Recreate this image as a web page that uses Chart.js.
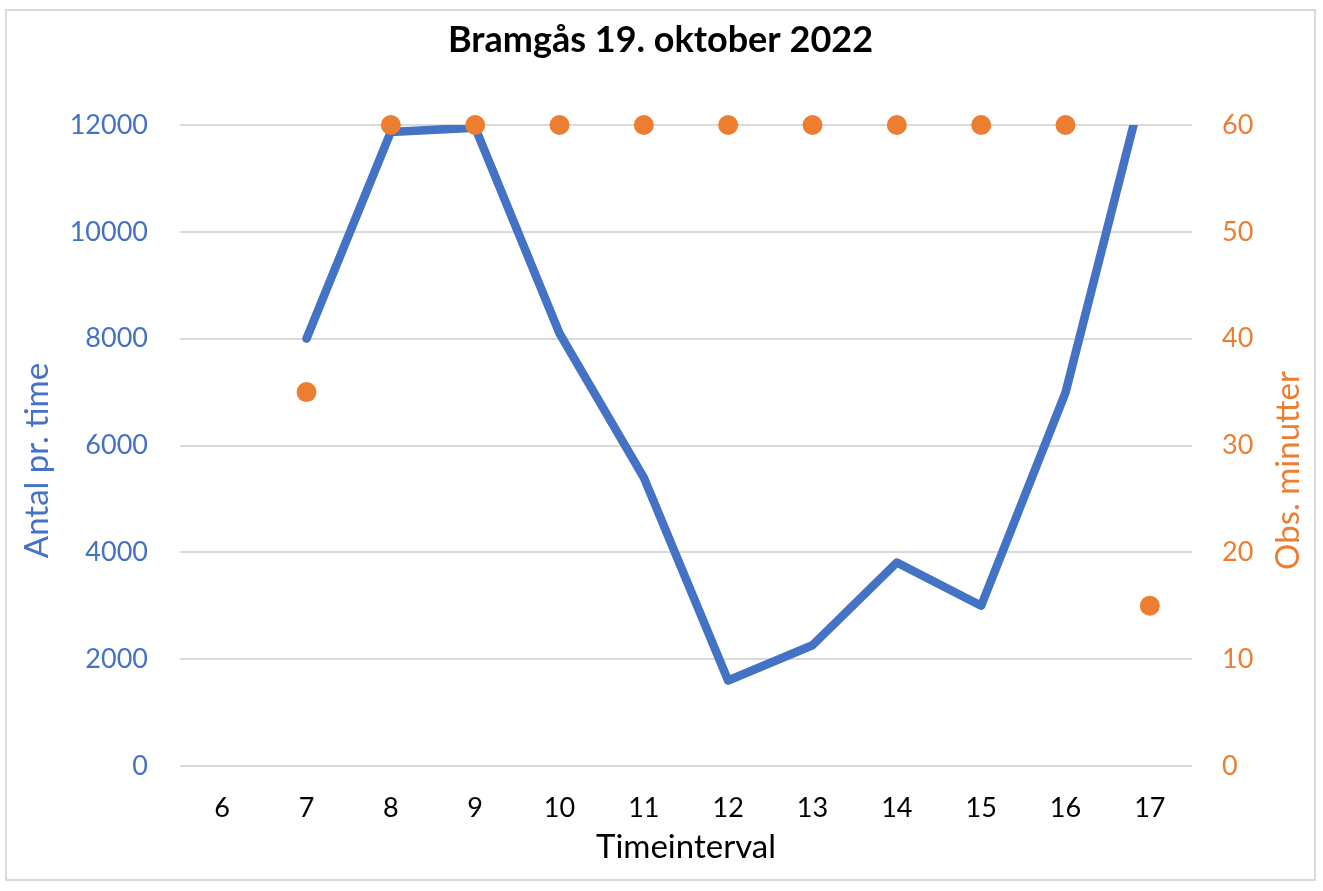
<!DOCTYPE html>
<html>
<head>
<meta charset="utf-8">
<title>Bramgås 19. oktober 2022</title>
<script src="https://cdn.jsdelivr.net/npm/chart.js@4.4.0/dist/chart.umd.min.js"></script>
<style>
  html, body { margin: 0; padding: 0; background: #fff; }
  #frame { position: absolute; left: 5px; top: 9px; width: 1307px; height: 868px; border: 2px solid #d9d9d9; }
  #frame canvas { display: block; }
</style>
</head>
<body>
<div id="frame"><canvas id="chart"></canvas></div>
<script>
/* Bramgås – antal pr. time og observationsminutter */

var hours = ['6', '7', '8', '9', '10', '11', '12', '13', '14', '15', '16', '17'];
var countPerHour = [null, 8000, 11870, 11950, 8100, 5400, 1600, 2260, 3810, 3000, 6990, 13200];
var obsMinutes = [null, 35, 60, 60, 60, 60, 60, 60, 60, 60, 60, 15];

var chartTitle = 'Bramgås 19. oktober 2022';
var xTitle = 'Timeinterval';
var leftTitle = 'Antal pr. time';
var rightTitle = 'Obs. minutter';

var BLUE = '#4472c4';
var ORANGE = '#ed7d31';
var GRID = '#d9d9d9';
var FONT = 'Lato';

// axis titles are drawn here so the secondary one can read bottom-to-top like the original
var axisTitlePlugin = {
  id: 'axisTitles',
  afterDraw: function(chart) {
    var ctx = chart.ctx, a = chart.chartArea;
    var midY = (a.top + a.bottom) / 2;
    ctx.save();
    ctx.font = '33px ' + FONT;
    ctx.textAlign = 'center';
    ctx.textBaseline = 'middle';
    [[leftTitle, 30, midY + 15, BLUE], [rightTitle, a.right + 96, midY + 25, ORANGE]].forEach(function(t) {
      ctx.save();
      ctx.translate(t[1], t[2]);
      ctx.rotate(-Math.PI / 2);
      ctx.fillStyle = t[3];
      ctx.fillText(t[0], 0, 0);
      ctx.restore();
    });
    ctx.restore();
  }
};

function fixWidth(w) { return function(s) { s.width = w; }; }
function plain(v) { return String(v); }

new Chart(document.getElementById('chart'), {
  type: 'line',
  data: {
    labels: hours,
    datasets: [
      {label: rightTitle, data: obsMinutes, yAxisID: 'y2', showLine: false,
       pointRadius: 10, pointHoverRadius: 10, pointBorderWidth: 0,
       pointBackgroundColor: ORANGE, borderColor: ORANGE, order: 1, clip: false},
      {label: leftTitle, data: countPerHour, yAxisID: 'y', borderColor: BLUE, borderWidth: 8.5,
       borderCapStyle: 'round', borderJoinStyle: 'round', tension: 0,
       pointRadius: 0, pointHoverRadius: 0, order: 2, clip: 0}
    ]
  },
  options: {
    responsive: true, maintainAspectRatio: false, animation: false,
    layout: {padding: 0},
    plugins: {
      legend: {display: false},
      tooltip: {enabled: false},
      title: {display: true, text: chartTitle, color: '#000',
              font: {family: FONT, size: 36, weight: 'bold', lineHeight: 1.2},
              padding: {top: 8, bottom: 62.8}}
    },
    scales: {
      x: {
        offset: true,
        grid: {display: false, drawTicks: false},
        border: {display: false},
        ticks: {color: '#000', padding: 26, font: {family: FONT, size: 27}, maxRotation: 0},
        title: {display: true, text: xTitle, color: '#000', font: {family: FONT, size: 33},
                padding: {top: 0, bottom: 12}},
        afterFit: function(s) { s.height = 113; }
      },
      y: {
        position: 'left', min: 0, max: 12000,
        grid: {color: GRID, lineWidth: 2, drawTicks: false},
        border: {display: false},
        ticks: {stepSize: 2000, color: BLUE, padding: 32, font: {family: FONT, size: 27}, callback: plain},
        afterFit: fixWidth(173)
      },
      y2: {
        position: 'right', min: 0, max: 60,
        grid: {display: false, drawTicks: false},
        border: {display: false},
        ticks: {stepSize: 10, color: ORANGE, padding: 30, font: {family: FONT, size: 27}, callback: plain},
        afterFit: fixWidth(122)
      }
    }
  },
  plugins: [axisTitlePlugin]
});
</script>
</body>
</html>
